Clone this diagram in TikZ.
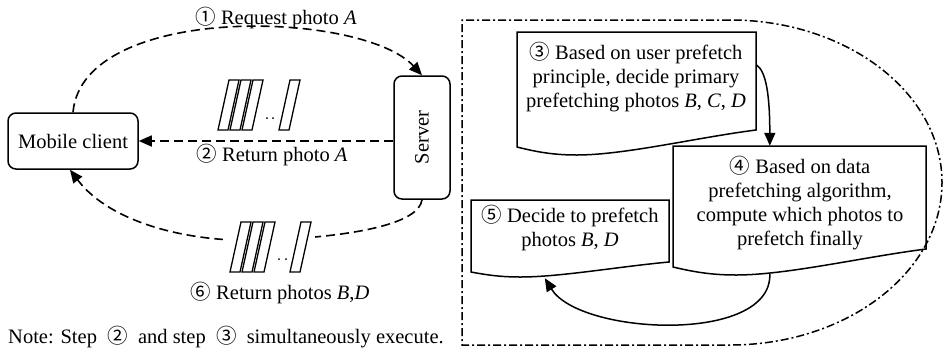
\documentclass[tikz,border=0pt]{standalone}
\usepackage{fontspec}
\setmainfont{Liberation Serif}
\newfontfamily\cj{Noto Sans CJK SC}
\usetikzlibrary{arrows.meta,calc}
\newcommand\docshape[6]{% xL yT xR yB dip rise
\draw[docline] (#1,#2) -- (#3,#2) -- (#3,{#4-#6})
 .. controls ({#1+0.75*(#3-#1)},{#4-0.55*#6}) and ({#1+0.45*(#3-#1)},{#4+#5}) .. ({#1+0.25*(#3-#1)},{#4+#5})
 .. controls ({#1+0.15*(#3-#1)},{#4+#5}) and ({#1+0.08*(#3-#1)},{#4+0.6*#5}) .. (#1,#4) -- cycle;}
\newcommand\photobar[2]{\draw[photo] (#1,#2) -- ++(10,0) -- ++(11,-50) -- ++(-10,0) -- cycle;}
\begin{document}
\begin{tikzpicture}[x=1pt,y=-1pt,font=\fontsize{20.5}{24}\selectfont,
  rbox/.style={draw,line width=1.5pt,rounded corners=8pt,inner sep=0pt},
  dasharrow/.style={line width=1.6pt,dash pattern=on 9pt off 5pt,-{Triangle[length=13pt,width=11pt]}},
  solidarrow/.style={line width=1.5pt,-{Triangle[length=13pt,width=11pt]}},
  docline/.style={draw,line width=1.5pt,line join=miter},
  photo/.style={draw,fill=white,line width=1.3pt},
  region/.style={line width=1.5pt,dash pattern=on 8pt off 3pt on 2pt off 3pt},
  lbl/.style={inner sep=0pt,align=center},
  shapebox/.style={draw=none,inner sep=0pt}]
\useasboundingbox (0,0) rectangle (944,349);
% left part
\node[rbox,minimum width=130pt,minimum height=56pt] (client) at (73,141) {Mobile client};
\node[rbox,minimum width=56pt,minimum height=123pt] (server) at (422,137.5) {\rotatebox{90}{Server}};
\draw[dasharrow] (client.north) .. controls +(10,-110) and +(-60,-65) .. (server.north);
\draw[dasharrow] (server.west |- client.east) -- (client.east);
\draw[dasharrow] (server.south) .. controls +(-3,23) and +(90,-4) .. (270,240)
  .. controls +(-80,4) and +(40,53) .. ([xshift=-3pt]client.south);
% photo stacks
\fill[white] (216,78) rectangle (302,132);
\photobar{218}{130}\photobar{230}{130}\photobar{242}{130}\photobar{279}{130}
\fill (267,118) circle (1) (273,118) circle (1);
\fill[white] (223,219) rectangle (315,275);
\photobar{230}{272}\photobar{242}{272}\photobar{254}{272}\photobar{290}{272}
\fill (279,259) circle (1) (286,259) circle (1);
% labels
\node[lbl] (l1) at (276,18) {{\cj ①} Request photo \textit{A}};
\node[lbl] (l2) at (272,155) {{\cj ②} Return photo \textit{A}};
\node[lbl] (l6) at (280,293) {{\cj ⑥} Return photos \textit{B},\textit{D}};
\node[lbl,anchor=west] (note) at (8,337) {Note: Step\ \ {\cj ②}\ \ and step\ \ {\cj ③}\ \ simultaneously execute.};
% right region
\draw[region] (730,20) -- (462,20) -- (462,345) -- (730,345)
  .. controls (847,345) and (942,272) .. (942,182.5)
  .. controls (942,93) and (847,20) .. (730,20);
\node[shapebox,minimum width=239pt,minimum height=115pt] (b3) at (636.5,89.5) {};
\node[shapebox,minimum width=253pt,minimum height=121pt] (b4) at (799.5,206.5) {};
\node[shapebox,minimum width=198pt,minimum height=72pt] (b5) at (570,236) {};
\docshape{517}{32}{756}{147}{8}{17}
\docshape{673}{146}{926}{267}{8}{18}
\docshape{471}{200}{669}{272}{5}{10}
\node[lbl] (t3) at (636,77) {{\cj ③} Based on user prefetch\\principle, decide primary\\prefetching photos \textit{B}, \textit{C}, \textit{D}};
\node[lbl] (t4) at (800,203) {{\cj ④} Based on data\\prefetching algorithm,\\compute which photos to\\prefetch finally};
\node[lbl] (t5) at (570,228) {{\cj ⑤} Decide to prefetch\\photos \textit{B}, \textit{D}};
\draw[solidarrow] ([yshift=-33pt]b3.north east) .. controls +(10,6) and +(0,-50) .. ([xshift=97pt]b4.north west);
\draw[solidarrow] ([xshift=97pt,yshift=-7pt]b4.south west) .. controls +(2,70) and +(35,57) .. ([xshift=74pt,yshift=-6pt]b5.south west);
\end{tikzpicture}
\end{document}
